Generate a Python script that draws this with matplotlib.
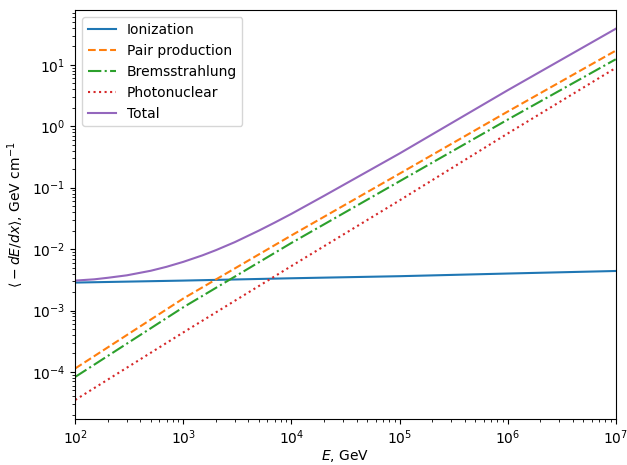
import matplotlib
matplotlib.use("Agg")
import matplotlib.pyplot as plt

# muon energy loss components, GeV cm^-1
energy = [1e2, 1e3, 1e4, 1e5, 1e6, 1e7]
ionization = [2.85e-3, 3.07e-3, 3.35e-3, 3.62e-3, 4.0e-3, 4.4e-3]
pair_production = [1.14e-4, 1.57e-3, 1.67e-2, 0.169, 1.73, 17.0]
bremsstrahlung = [8.3e-5, 1.13e-3, 1.26e-2, 0.127, 1.28, 12.3]
photonuclear = [3.5e-5, 4.4e-4, 5.3e-3, 0.062, 0.76, 8.9]

# total loss on a finer grid where it bends
energy_total = [1e2, 1.5e2, 2e2, 3e2, 5e2, 7e2, 1e3, 1.5e3, 2e3, 3e3, 5e3,
                7e3, 1e4, 2e4, 1e5, 1e6, 1e7]
total = [3.07e-3, 3.22e-3, 3.41e-3, 3.74e-3, 4.44e-3, 5.15e-3, 6.2e-3,
         7.9e-3, 9.6e-3, 1.3e-2, 2.0e-2, 2.7e-2, 3.75e-2, 7.35e-2, 0.36,
         3.85, 38.6]

fig, ax = plt.subplots(figsize=(6.27, 4.65), dpi=100)
fig.subplots_adjust(left=0.12, right=0.982, top=0.978, bottom=0.1)

ax.loglog(energy, ionization, '-', label="Ionization")
ax.loglog(energy, pair_production, '--', label="Pair production")
ax.loglog(energy, bremsstrahlung, '-.', label="Bremsstrahlung")
ax.loglog(energy, photonuclear, ':', label="Photonuclear")
ax.loglog(energy_total, total, '-', label="Total")

ax.set_xlim(1e2, 1e7)
ax.set_xlabel(r"$E$, GeV", labelpad=1)
ax.set_ylabel(r"$\langle\:-\:dE/dx\rangle$, GeV cm$^{-1}$")
ax.legend(loc="upper left")

fig.savefig("out.png", dpi=100)
